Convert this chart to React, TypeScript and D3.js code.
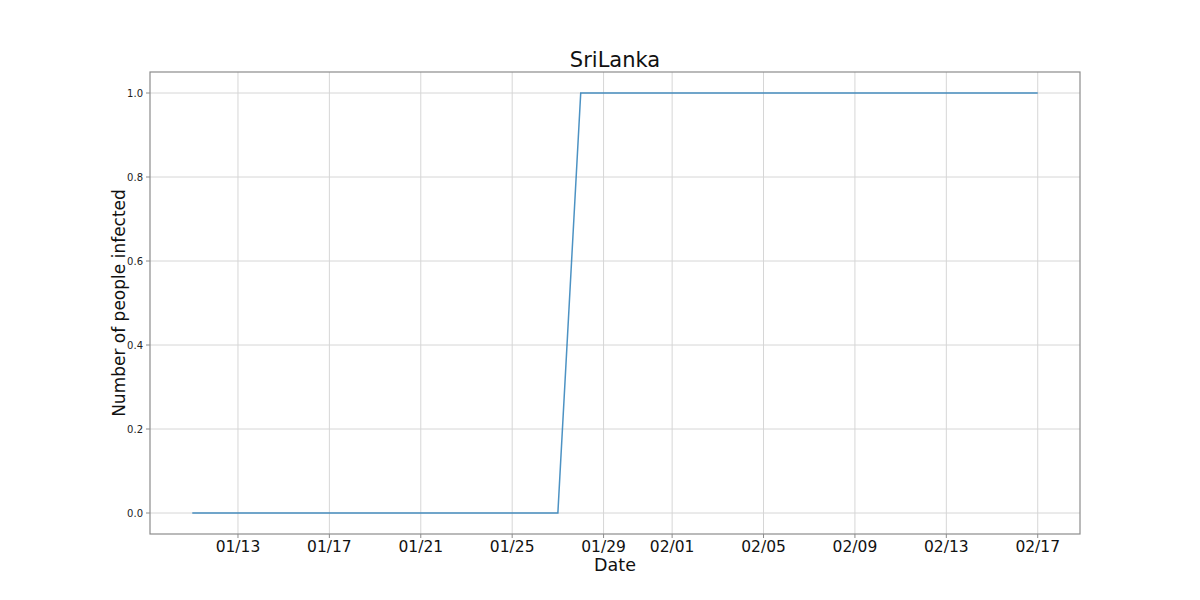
import React from "react";
import * as d3 from "d3";

const dates = [
  "2020-01-11","2020-01-12","2020-01-13","2020-01-14","2020-01-15","2020-01-16","2020-01-17",
  "2020-01-18","2020-01-19","2020-01-20","2020-01-21","2020-01-22","2020-01-23","2020-01-24",
  "2020-01-25","2020-01-26","2020-01-27","2020-01-28","2020-01-29","2020-01-30","2020-01-31",
  "2020-02-01","2020-02-02","2020-02-03","2020-02-04","2020-02-05","2020-02-06","2020-02-07",
  "2020-02-08","2020-02-09","2020-02-10","2020-02-11","2020-02-12","2020-02-13","2020-02-14",
  "2020-02-15","2020-02-16","2020-02-17",
];
const infected = [
  0,0,0,0,0,0,0,0,0,0,0,0,0,0,0,0,0,1,1,1,1,1,1,1,1,1,1,1,1,1,1,1,1,1,1,1,1,1,
];
const xTickDates = ["2020-01-13","2020-01-17","2020-01-21","2020-01-25","2020-01-29","2020-02-01","2020-02-05","2020-02-09","2020-02-13","2020-02-17"];
const yTicks = [0, 0.2, 0.4, 0.6, 0.8, 1.0];

const parse = d3.utcParse("%Y-%m-%d");
const fmt = d3.utcFormat("%m/%d");

export default function App() {
  const W = 1200, H = 600;
  const L = 150, R = 1080, T = 72, B = 534;
  const pts = dates.map((d, i) => ({ t: parse(d)!, v: infected[i] }));
  const t0 = pts[0].t.getTime(), t1 = pts[pts.length - 1].t.getTime();
  const span = t1 - t0;
  const x = d3.scaleUtc().domain([new Date(t0 - span * 0.05), new Date(t1 + span * 0.05)]).range([L, R]);
  const y = d3.scaleLinear().domain([-0.05, 1.05]).range([B, T]);
  const line = d3.line<{ t: Date; v: number }>().x(d => x(d.t)).y(d => y(d.v));
  const font = "DejaVu Sans, sans-serif";
  const xt = xTickDates.map(d => parse(d)!);
  return (
    <svg width={W} height={H} style={{ position: "absolute", left: 0, top: 0, background: "#fff" }} fontFamily={font}>
      <rect x={0} y={0} width={W} height={H} fill="#fff" />
      {xt.map((d, i) => (
        <line key={"gx" + i} x1={x(d)} x2={x(d)} y1={T} y2={B} stroke="#d6d6d6" strokeWidth={1} />
      ))}
      {yTicks.map((v, i) => (
        <line key={"gy" + i} x1={L} x2={R} y1={y(v)} y2={y(v)} stroke="#d6d6d6" strokeWidth={1} />
      ))}
      <path d={line(pts) || ""} fill="none" stroke="#1f77b4" strokeWidth={1.5} opacity={0.8} />
      <rect x={L} y={T} width={R - L} height={B - T} fill="none" stroke="#8c8c8c" strokeWidth={1.2} />
      {xt.map((d, i) => (
        <g key={"tx" + i}>
          <line x1={x(d)} x2={x(d)} y1={B} y2={B + 4} stroke="#8c8c8c" />
          <text x={x(d)} y={B + 18} textAnchor="middle" fontSize={15.5} fill="#111">{fmt(d)}</text>
        </g>
      ))}
      {yTicks.map((v, i) => (
        <g key={"ty" + i}>
          <line x1={L - 4} x2={L} y1={y(v)} y2={y(v)} stroke="#8c8c8c" />
          <text x={L - 7} y={y(v)} dy="0.35em" textAnchor="end" fontSize={10} fill="#222">{v.toFixed(1)}</text>
        </g>
      ))}
      <text x={(L + R) / 2} y={67} textAnchor="middle" fontSize={21} fill="#111">SriLanka</text>
      <text x={(L + R) / 2} y={571} textAnchor="middle" fontSize={17.5} fill="#111">Date</text>
      <text transform={`translate(125,${(T + B) / 2}) rotate(-90)`} textAnchor="middle" fontSize={17} fill="#111">Number of people infected</text>
    </svg>
  );
}
